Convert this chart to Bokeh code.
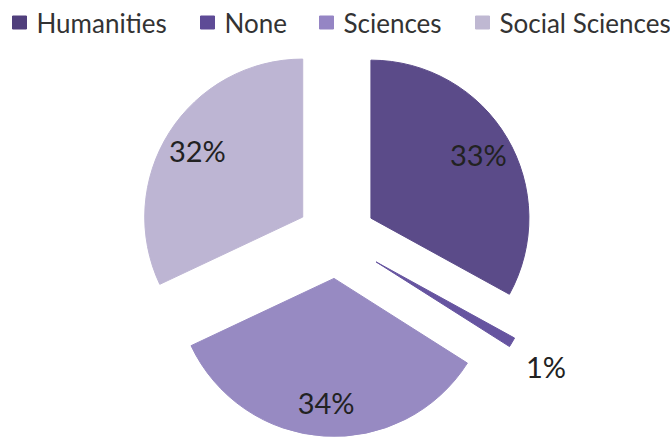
import math
from bokeh.plotting import figure
from bokeh.models import Range1d
from bokeh.core.properties import value
from bokeh.embed import file_html
from bokeh.resources import INLINE

# ---- data ----
categories = ["Humanities", "None", "Sciences", "Social Sciences"]
percentages = [33, 1, 34, 32]
labels = ["33%", "1%", "34%", "32%"]

# ---- style ----
slice_colors = ["#5b4b89", "#6654a0", "#978ac2", "#bdb5d3"]
legend_colors = ["#503f7c", "#5e4b96", "#9585c4", "#bfb8d2"]
explode = [40, 46, 40, 40]
W, H = 670, 438
cx, cy = 336, 200
R = 158
FONT = "Lato"

p = figure(width=W, height=H, output_backend="svg", toolbar_location=None,
           x_range=Range1d(0, W), y_range=Range1d(0, H), min_border=0)
p.axis.visible = False
p.grid.visible = False
p.outline_line_color = None
p.background_fill_color = "white"

total = sum(percentages)
cum = 0.0
for i, v in enumerate(percentages):
    f0 = cum / total
    f1 = (cum + v) / total
    cum += v
    a0 = math.pi / 2 - f0 * 2 * math.pi
    a1 = math.pi / 2 - f1 * 2 * math.pi
    am = (a0 + a1) / 2
    ox = cx + explode[i] * math.cos(am)
    oy = cy + explode[i] * math.sin(am)
    p.wedge(x=[ox], y=[oy], radius=R, start_angle=a0, end_angle=a1,
            direction="clock", fill_color=slice_colors[i],
            line_color=slice_colors[i], line_width=1)
    if v < 5:
        lr = R * 1.54
        lx = cx + lr * math.cos(am)
        ly = cy + lr * math.sin(am) - 4
    else:
        lr = R * 0.79
        lx = ox + lr * math.cos(am)
        ly = oy + lr * math.sin(am)
    p.text(x=[lx], y=[ly], text=[labels[i]], text_font=value(FONT),
           text_font_size="29px", text_color="#222222",
           text_align="center", text_baseline="middle")

# legend
leg_x = [19, 207, 326, 482]
leg_y = H - 22
for i, c in enumerate(categories):
    p.rect(x=[leg_x[i]], y=[leg_y], width=14, height=13,
           fill_color=legend_colors[i], line_color=legend_colors[i])
    p.text(x=[leg_x[i] + 17], y=[leg_y], text=[c], text_font=value(FONT),
           text_font_size="26px", text_color="#333333",
           text_align="left", text_baseline="middle")

open("out.html", "w").write(file_html(p, INLINE))
